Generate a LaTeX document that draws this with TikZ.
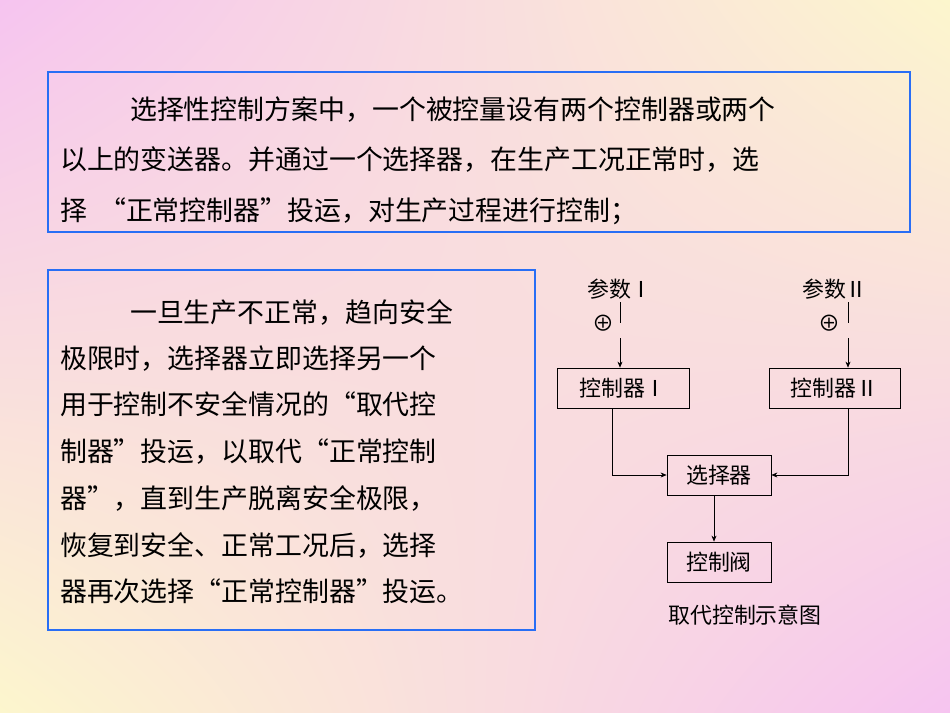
\documentclass[tikz,border=0pt]{standalone}
\usepackage{fontspec}
\setmainfont{Noto Sans CJK SC}
\usetikzlibrary{arrows.meta,shadings}
\definecolor{bgpink}{RGB}{246,196,240}
\definecolor{bgyel}{RGB}{252,246,205}
\definecolor{frameblue}{RGB}{40,110,245}
\begin{document}
\begin{tikzpicture}[x=1bp,y=-1bp,
  para/.style={anchor=base west,inner sep=0,font=\fontsize{27}{30}\selectfont},
  blk/.style={draw=black,thick,fill=none,minimum height=40bp,inner sep=0,font=\fontsize{22}{24}\selectfont},
  lab/.style={inner sep=0,font=\fontsize{22}{24}\selectfont},
  arr/.style={-{Stealth[length=6bp,width=5bp]},line width=0.6bp},
  frame/.style={draw=frameblue,line width=2.5bp}]
\useasboundingbox (0,0) rectangle (950,713);
\shade[upper left=bgpink,upper right=bgyel,lower left=bgyel,lower right=bgpink] (0,0) rectangle (950,713);
\draw[frame] (48,72) rectangle (910,232);
\node[para] (t1) at (130,120) {选择性控制方案中，一个被控量设有两个控制器或两个};
\node[para] (t2) at (60,170) {以上的变送器。并通过一个选择器，在生产工况正常时，选};
\node[para] (t3) at (60,220) {择\ \ “正常控制器”投运，对生产过程进行控制；};
\draw[frame] (48,270) rectangle (535,630);
\node[para] (p1) at (130,322) {一旦生产不正常，趋向安全};
\node[para] (p2) at (60,368) {极限时，选择器立即选择另一个};
\node[para] (p3) at (60,414) {用于控制不安全情况的“取代控};
\node[para] (p4) at (60,461) {制器”投运，以取代“正常控制};
\node[para] (p5) at (60,508) {器”，直到生产脱离安全极限，};
\node[para] (p6) at (60,555) {恢复到安全、正常工况后，选择};
\node[para] (p7) at (60,601) {器再次选择“正常控制器”投运。};
\node[lab] (s1) at (620,289) {参数Ⅰ};
\node[lab] (s2) at (835,289) {参数Ⅱ};
\node[lab] (o1) at (603,323) {⊕};
\node[lab] (o2) at (829,323) {⊕};
\node[blk,minimum width=132bp] (c1) at (623,388) {控制器Ⅰ};
\node[blk,minimum width=131bp] (c2) at (834.5,388) {控制器Ⅱ};
\node[blk,minimum width=104bp] (sel) at (719,475) {选择器};
\node[blk,minimum width=104bp] (v) at (719,562) {控制阀};
\node[lab] (cap) at (745,615) {取代控制示意图};
\coordinate (g1a) at (620,323); \coordinate (g1b) at (620,338);
\coordinate (g2a) at (848,323); \coordinate (g2b) at (848,338);
\draw[line width=0.6bp] (620,302) -- (g1a);
\draw[arr] (g1b) -- (c1.north -| g1b);
\draw[line width=0.6bp] (848,302) -- (g2a);
\draw[arr] (g2b) -- (c2.north -| g2b);
\draw[arr] (c1.south -| 612,0) |- (sel.west);
\draw[arr] (c2.south -| 848,0) |- (sel.east);
\draw[arr] (sel.south -| 714,0) -- (v.north -| 714,0);
\end{tikzpicture}
\end{document}
